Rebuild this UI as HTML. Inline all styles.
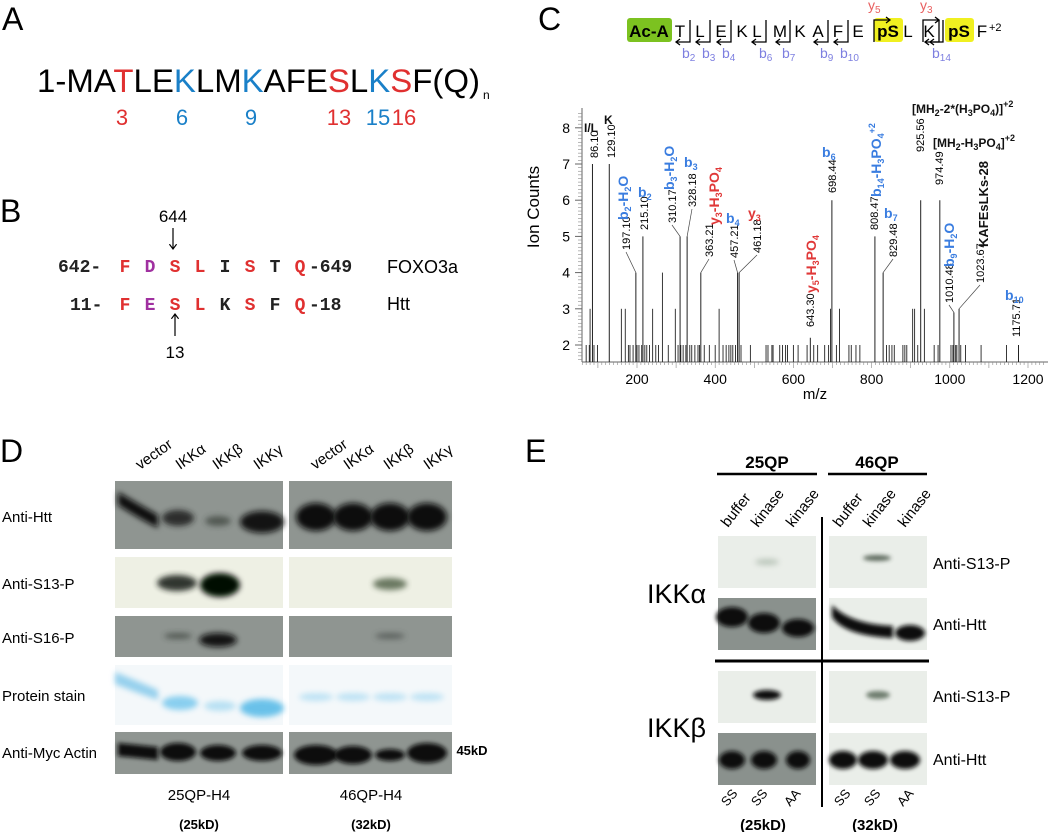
<!DOCTYPE html>
<html><head><meta charset="utf-8"><style>
html,body{margin:0;padding:0;background:#fff}
svg{display:block}
text{font-family:"Liberation Sans",sans-serif}
.mono text{font-family:"Liberation Mono",monospace;font-weight:bold}
</style></head><body>
<svg id="s" width="1055" height="832" viewBox="0 0 1055 832" xmlns="http://www.w3.org/2000/svg">
<defs>
<filter id="b3" x="-50%" y="-100%" width="200%" height="300%"><feGaussianBlur stdDeviation="3"/></filter>
<filter id="b2" x="-50%" y="-100%" width="200%" height="300%"><feGaussianBlur stdDeviation="2"/></filter>
<marker id="ah" markerWidth="8" markerHeight="8" refX="4" refY="4" orient="auto"><path d="M0,1 L4,4 L0,7" fill="none" stroke="#000" stroke-width="1"/></marker>
</defs>
<!-- Panel A -->
<text x="2" y="30" font-size="32">A</text>
<text x="37" y="92" font-size="32" textLength="443" lengthAdjust="spacingAndGlyphs">1-MA<tspan fill="#e03030">T</tspan>LE<tspan fill="#1a80c8">K</tspan>LM<tspan fill="#1a80c8">K</tspan>AFE<tspan fill="#e03030">S</tspan>L<tspan fill="#1a80c8">K</tspan><tspan fill="#e03030">S</tspan>F(Q)</text>
<text x="483" y="99" font-size="12">n</text>
<g font-size="22" text-anchor="middle">
<text x="122" y="125" fill="#e03030">3</text>
<text x="182" y="125" fill="#1a80c8">6</text>
<text x="251" y="125" fill="#1a80c8">9</text>
<text x="339" y="125" fill="#e03030">13</text>
<text x="378" y="125" fill="#1a80c8">15</text>
<text x="404" y="125" fill="#e03030">16</text>
</g>
<!-- Panel B -->
<text x="0" y="222" font-size="32">B</text>
<text x="173" y="222" font-size="17" text-anchor="middle">644</text>
<line x1="173" y1="228" x2="173" y2="249" stroke="#000" stroke-width="1.2" marker-end="url(#ah)"/>
<g class="mono" font-size="18" text-anchor="middle">
<text x="58" y="272" text-anchor="start" fill="#222">642-</text>
<text x="125" y="272" fill="#e03030">F</text><text x="150" y="272" fill="#a030a0">D</text><text x="175" y="272" fill="#e03030">S</text><text x="200" y="272" fill="#e03030">L</text><text x="225" y="272" fill="#222">I</text><text x="250" y="272" fill="#e03030">S</text><text x="275" y="272" fill="#222">T</text><text x="300" y="272" fill="#e03030">Q</text>
<text x="309" y="272" text-anchor="start" fill="#222">-649</text>
<text x="70" y="310" text-anchor="start" fill="#222">11-</text>
<text x="125" y="310" fill="#e03030">F</text><text x="150" y="310" fill="#a030a0">E</text><text x="175" y="310" fill="#e03030">S</text><text x="200" y="310" fill="#e03030">L</text><text x="225" y="310" fill="#222">K</text><text x="250" y="310" fill="#e03030">S</text><text x="275" y="310" fill="#222">F</text><text x="300" y="310" fill="#e03030">Q</text>
<text x="309" y="310" text-anchor="start" fill="#222">-18</text>
</g>
<text x="387" y="273" font-size="18">FOXO3a</text>
<text x="387" y="310" font-size="18">Htt</text>
<line x1="175" y1="336" x2="175" y2="314" stroke="#000" stroke-width="1.2" marker-end="url(#ah)"/>
<text x="175" y="358" font-size="17" text-anchor="middle">13</text>

<!-- Panel C header -->
<text x="538" y="30" font-size="32">C</text>
<rect x="627" y="18" width="45" height="24" rx="3" fill="#7cc220"/>
<text x="649" y="37" font-size="17" font-weight="bold" text-anchor="middle">Ac-A</text>
<rect x="874" y="18" width="29" height="24" rx="3" fill="#f0f020"/>
<rect x="945" y="18" width="29" height="24" rx="3" fill="#f0f020"/>
<g font-size="17" text-anchor="middle">
<text x="680" y="37">T</text><text x="700" y="37">L</text><text x="721" y="37">E</text><text x="742" y="37">K</text><text x="757" y="37">L</text><text x="780" y="37">M</text><text x="800" y="37">K</text><text x="818" y="37">A</text><text x="838" y="37">F</text><text x="858" y="37">E</text>
<text x="888" y="37" font-weight="bold">pS</text><text x="908" y="37">L</text><text x="929" y="37">K</text><text x="959" y="37" font-weight="bold">pS</text><text x="982" y="37">F</text>
</g>
<text x="989" y="31" font-size="11">+2</text>
<g id="frag" stroke="#000" stroke-width="1.3" fill="none"></g>
<g id="chart"></g>

<!-- Panel D -->
<text x="0" y="462" font-size="32">D</text>
<g id="dblots"></g>
<g font-size="15">
<text x="2" y="522">Anti-Htt</text>
<text x="2" y="589">Anti-S13-P</text>
<text x="2" y="643">Anti-S16-P</text>
<text x="2" y="701">Protein stain</text>
<text x="2" y="758">Anti-Myc Actin</text>
<text x="199" y="800" text-anchor="middle">25QP-H4</text>
<text x="371" y="800" text-anchor="middle">46QP-H4</text>
</g>
<g font-size="13" font-weight="bold" text-anchor="middle">
<text x="199" y="829">(25kD)</text><text x="371" y="829">(32kD)</text>
<text x="472" y="755">45kD</text>
</g>
<g font-size="15" id="dlanes"></g>

<!-- Panel E -->
<text x="525" y="462" font-size="32">E</text>
<g id="eblots"></g>
<g font-size="17" font-weight="bold" text-anchor="middle"><text x="767" y="468">25QP</text><text x="877" y="468">46QP</text></g>
<line x1="717" y1="474" x2="817" y2="474" stroke="#000" stroke-width="2.5"/>
<line x1="828" y1="474" x2="927" y2="474" stroke="#000" stroke-width="2.5"/>
<line x1="715" y1="661" x2="929" y2="661" stroke="#000" stroke-width="3"/>
<line x1="822" y1="517" x2="822" y2="807" stroke="#000" stroke-width="2"/>
<g font-size="16">
<text x="933" y="569">Anti-S13-P</text><text x="933" y="630">Anti-Htt</text>
<text x="933" y="702">Anti-S13-P</text><text x="933" y="765">Anti-Htt</text>
</g>
<text x="647" y="603" font-size="27">IKKα</text>
<text x="647" y="737" font-size="27">IKKβ</text>
<g font-size="15" font-weight="bold" text-anchor="middle"><text x="763" y="830">(25kD)</text><text x="875" y="830">(32kD)</text></g>
<g id="elanes"></g>
</svg>
<script>
const NS="http://www.w3.org/2000/svg";
function el(p,tag,a,txt){const e=document.createElementNS(NS,tag);for(const k in a)e.setAttribute(k,a[k]);if(txt!==undefined)e.textContent=txt;p.appendChild(e);return e;}
const fr=document.getElementById('frag');
const bpos=[[690,'b2',682],[710,'b3',702],[731,'b4',722],[766,'b6',759],[790,'b7',782],[828,'b9',820],[848,'b10',840],[939,'b14',932]];
const svg=document.getElementById('s');
bpos.forEach(([x,l,lx])=>{el(fr,'path',{d:`M${x},20 L${x},42 L${x-14},42`});el(fr,'path',{d:`M${x-10},39 L${x-14},42 L${x-10},45`});
 const t=el(svg,'text',{x:lx,y:58,'font-size':14,fill:'#7d7fe0'},'b');el(t,'tspan',{'font-size':10,dy:3},l.slice(1));});
[[868,'y5',874],[920,'y3',923]].forEach(([x,l,bx])=>{el(fr,'path',{d:`M${bx},42 L${bx},20 L${bx+16},20`});el(fr,'path',{d:`M${bx+12},17 L${bx+16},20 L${bx+12},23`});
 const t=el(svg,'text',{x:x,y:10,'font-size':14,fill:'#e86060'},'y');el(t,'tspan',{'font-size':10,dy:3},l.slice(1));});
el(fr,'path',{d:'M943,20 L943,42 L930,42'});el(fr,'path',{d:'M934,39 L930,42 L934,45'});
const c=document.getElementById('chart');
const X=m=>637+(m-200)*0.391, Y=v=>345-(v-2)*36.2;
el(c,'line',{x1:582,y1:362,x2:1048,y2:362,stroke:'#666'});
el(c,'line',{x1:582,y1:108,x2:582,y2:362,stroke:'#666'});
for(let v=1.6;v<=8.4;v+=0.1){el(c,'line',{x1:578,y1:Y(v),x2:582,y2:Y(v),stroke:'#888','stroke-width':0.6});}
for(let v=2;v<=8;v++){el(c,'line',{x1:575,y1:Y(v),x2:582,y2:Y(v),stroke:'#666'});el(c,'text',{x:570,y:Y(v)+5,'font-size':14,'text-anchor':'end'},v);}
for(let m=60;m<=1240;m+=10){el(c,'line',{x1:X(m),y1:362,x2:X(m),y2:m%100==0?368:365,stroke:'#888','stroke-width':0.6});}
for(let m=200;m<=1200;m+=200)el(c,'text',{x:X(m),y:384,'font-size':14,'text-anchor':'middle'},m);
el(c,'text',{x:815,y:399,'font-size':15,'text-anchor':'middle'},'m/z');
el(c,'text',{transform:'translate(539,207) rotate(-90)','font-size':17,'text-anchor':'middle'},'Ion Counts');
const small=[[70,2],[78,2],[80,3],[90,2],[99,2],[160,3],[170,3],[178,2],[182,2],[190,2],[200,2],[205,2],[212,2],[220,2],[225,2],[232,2],[240,3],[248,2],[255,2],[265,4],[280,2],[298,3],[305,2],[312,2],[318,2],[325,2],[335,2],[340,2],[348,2],[356,2],[360,2],[372,2],[385,2],[400,2],[410,3],[420,2],[428,2],[435,2],[440,2],[445,2],[452,2],[466,2],[490,2],[530,2],[535,2],[545,2],[548,2],[565,2],[572,2],[580,2],[585,2],[600,2],[612,2],[635,2],[652,2],[662,2],[680,2],[690,2],[695,3],[710,2],[718,3],[742,2],[748,2],[760,2],[770,2],[838,2],[845,2],[852,2],[858,2],[880,2],[885,2],[890,2],[905,3],[910,3],[918,2],[935,3],[960,2],[970,2],[1003,2],[1008,2],[1015,2],[1018,2],[1028,2],[1040,2],[1080,2],[1145,2]];
small.forEach(([m,h])=>el(c,'line',{x1:X(m),y1:362,x2:X(m),y2:Y(h),stroke:'#222','stroke-width':0.9}));
const pk=[[86.10,7,594,158],[129.10,7,611,158],[197.10,4,626,250],[215.10,5,644,230],[310.17,5,672,223],[328.18,5,692,207],[363.21,4,709,257],[457.21,4,734,258],[461.18,4,757,253],[643.30,2.2,810,327],[698.44,6,832,193],[808.47,5,874,230],[829.48,4,893,257],[925.56,6,920,152],[974.49,6,939,185],[1010.48,2.9,949,303],[1023.67,3,980,283],[1175.71,2,1016,337]];
pk.forEach(([m,h,lx,lb])=>{el(c,'line',{x1:X(m),y1:362,x2:X(m),y2:Y(h),stroke:'#222','stroke-width':1});
 el(c,'text',{transform:`translate(${lx+4},${lb}) rotate(-90)`,'font-size':11},m.toFixed(2));
 if(Math.abs(lx-X(m))>3)el(c,'line',{x1:lx,y1:lb+2,x2:X(m),y2:Y(h),stroke:'#444','stroke-width':0.7});});
const B='#3a7de0',R='#e03838';
function rot(x,yb,parts,col,fs){const e=el(c,'text',{transform:`translate(${x+6},${yb}) rotate(-90)`,'font-size':fs||14,'font-weight':'bold',fill:col});let lv=0;parts.forEach(([t,k])=>{const a={};let nl=k=='sub'?3:k=='sup'?-6:0;if(k){a['font-size']=9}a.dy=nl-lv;lv=nl;el(e,'tspan',a,t);});}
function hor(x,y,parts,col,fs){const e=el(c,'text',{x:x,y:y,'font-size':fs||14,'font-weight':'bold',fill:col});let lv=0;parts.forEach(([t,k])=>{const a={};let nl=k=='sub'?3:k=='sup'?-6:0;if(k){a['font-size']=9}a.dy=nl-lv;lv=nl;el(e,'tspan',a,t);});}
rot(622,220,[['b'],['2','sub'],['-H'],['2','sub'],['O']],B);
hor(638,197,[['b'],['2','sub']],B);
rot(668,190,[['b'],['3','sub'],['-H'],['2','sub'],['O']],B);
hor(684,167,[['b'],['3','sub']],B);
rot(713,225,[['y'],['3','sub'],['-H'],['3','sub'],['PO'],['4','sub']],R);
hor(726,223,[['b'],['4','sub']],B);
hor(748,218,[['y'],['3','sub']],R);
rot(810,293,[['y'],['5','sub'],['-H'],['3','sub'],['PO'],['4','sub']],R);
hor(822,157,[['b'],['6','sub']],B);
rot(875,197,[['b'],['14','sub'],['-H'],['3','sub'],['PO'],['4','sub'],['+2','sup']],B);
hor(884,218,[['b'],['7','sub']],B);
hor(912,113,[['[MH'],['2','sub'],['-2*(H'],['3','sub'],['PO'],['4','sub'],[')]'],['+2','sup']],'#111',12);
hor(933,147,[['[MH'],['2','sub'],['-H'],['3','sub'],['PO'],['4','sub'],[']'],['+2','sup']],'#111',12);
rot(982,247,[['KAFEsLKs-28']],'#111',13);
rot(948,267,[['b'],['9','sub'],['-H'],['2','sub'],['O']],B);
hor(1005,300,[['b'],['10','sub']],B);
hor(584,132,[['I/L']],'#111',12);hor(604,124,[['K']],'#111',12);

function blot(g,x,y,w,h,bg){el(g,'rect',{x:x,y:y,width:w,height:h,fill:bg});}
function band(g,cx,cy,rx,ry,col,op,f){el(g,'ellipse',{cx:cx,cy:cy,rx:rx,ry:ry,fill:col,opacity:op,filter:`url(#${f||'b3'})`});}
const d=document.getElementById('dblots');
const G='#8f9591',L='#eef0e4',W='#f4f8fa';
blot(d,115,481,168,68,G);blot(d,289,481,163,68,G);
el(d,'path',{d:'M118,492 Q140,505 158,515 L158,528 Q138,518 118,505 Z',fill:'#111',filter:'url(#b3)'});
band(d,178,518,16,8,'#1a1f1c',0.85);band(d,218,521,13,5,'#2a302c',0.6);band(d,262,522,22,11,'#111',0.95);
[316,353,390,427].forEach(x=>band(d,x,517,20,14,'#0c0e0d',1));
blot(d,115,557,168,51,L);blot(d,289,557,163,51,L);
band(d,177,583,20,8,'#1a221a',0.9);band(d,220,585,20,12,'#050805',1);band(d,390,584,17,6,'#4a5a40',0.8);
blot(d,115,616,168,41,G);blot(d,289,616,163,41,G);
band(d,178,636,14,3,'#2a302c',0.6);band(d,218,640,19,7,'#111',0.95);band(d,390,636,15,3,'#3a403c',0.6);
blot(d,115,665,168,60,W);blot(d,289,665,163,60,W);
el(d,'path',{d:'M115,672 Q140,682 158,690 L158,700 Q135,692 115,684 Z',fill:'#6ec0e8',opacity:0.7,filter:'url(#b3)'});
band(d,180,703,18,7,'#6ec4ec',0.8);band(d,220,706,16,5,'#8fd0ee',0.6);band(d,262,708,22,9,'#5cbce8',0.9);
[316,353,390,427].forEach(x=>band(d,x,697,17,4,'#a8daf2',0.7));
blot(d,115,732,168,42,G);blot(d,289,732,163,42,G);
el(d,'path',{d:'M118,743 L158,747 L158,760 L118,756 Z',fill:'#0a0c0b',filter:'url(#b2)'});
band(d,178,752,18,9,'#0a0c0b',1,'b2');band(d,218,753,18,8,'#0a0c0b',1,'b2');band(d,262,753,20,8,'#0a0c0b',1,'b2');
band(d,316,755,22,10,'#0a0c0b',1,'b2');band(d,353,755,19,9,'#0a0c0b',1,'b2');band(d,390,755,15,6,'#0a0c0b',1,'b2');band(d,427,753,20,10,'#0a0c0b',1,'b2');
const dl=document.getElementById('dlanes');
[[140,'vector'],[180,'IKKα'],[217,'IKKβ'],[258,'IKKγ'],[315,'vector'],[348,'IKKα'],[388,'IKKβ'],[428,'IKKγ']].forEach(([x,t])=>el(dl,'text',{transform:`translate(${x},470) rotate(-35)`},t));
const e=document.getElementById('eblots');
const EL='#eaeee9',EG='#8a918d';
blot(e,718,536,98,52,EL);blot(e,829,536,98,52,EL);
band(e,767,562,12,3,'#98a898',0.6);band(e,877,558,14,3,'#3a4a3a',0.8,'b2');
blot(e,718,598,98,52,EG);blot(e,829,598,98,52,EL);
band(e,732,617,16,10,'#0a0c0b',1,'b2');band(e,764,623,16,10,'#0a0c0b',1,'b2');band(e,798,628,16,9,'#0a0c0b',1,'b2');
el(e,'path',{d:'M832,605 Q850,624 893,626 L893,638 Q845,636 832,617 Z',fill:'#0a0c0b',filter:'url(#b2)'});
band(e,910,633,15,8,'#0a0c0b',1,'b2');
blot(e,718,671,98,52,EL);blot(e,829,671,98,52,EL);
band(e,767,695,14,5,'#0a0c0b',1,'b2');band(e,878,695,12,4,'#506050',0.8,'b2');
blot(e,718,733,98,52,EG);blot(e,829,733,98,52,EL);
[[732,13],[764,13],[798,12],[843,14],[873,15],[905,15]].forEach(([x,r])=>band(e,x,760,r,9,'#0a0c0b',1,'b2'));
const elg=document.getElementById('elanes');
[[728,'buffer'],[758,'kinase'],[793,'kinase'],[840,'buffer'],[870,'kinase'],[905,'kinase']].forEach(([x,t])=>el(elg,'text',{transform:`translate(${x},528) rotate(-52)`,'font-size':15},t));
[[727,'SS'],[757,'SS'],[790,'AA'],[840,'SS'],[870,'SS'],[903,'AA']].forEach(([x,t])=>el(elg,'text',{transform:`translate(${x},807) rotate(-50)`,'font-size':13},t));
</script>
</body></html>
